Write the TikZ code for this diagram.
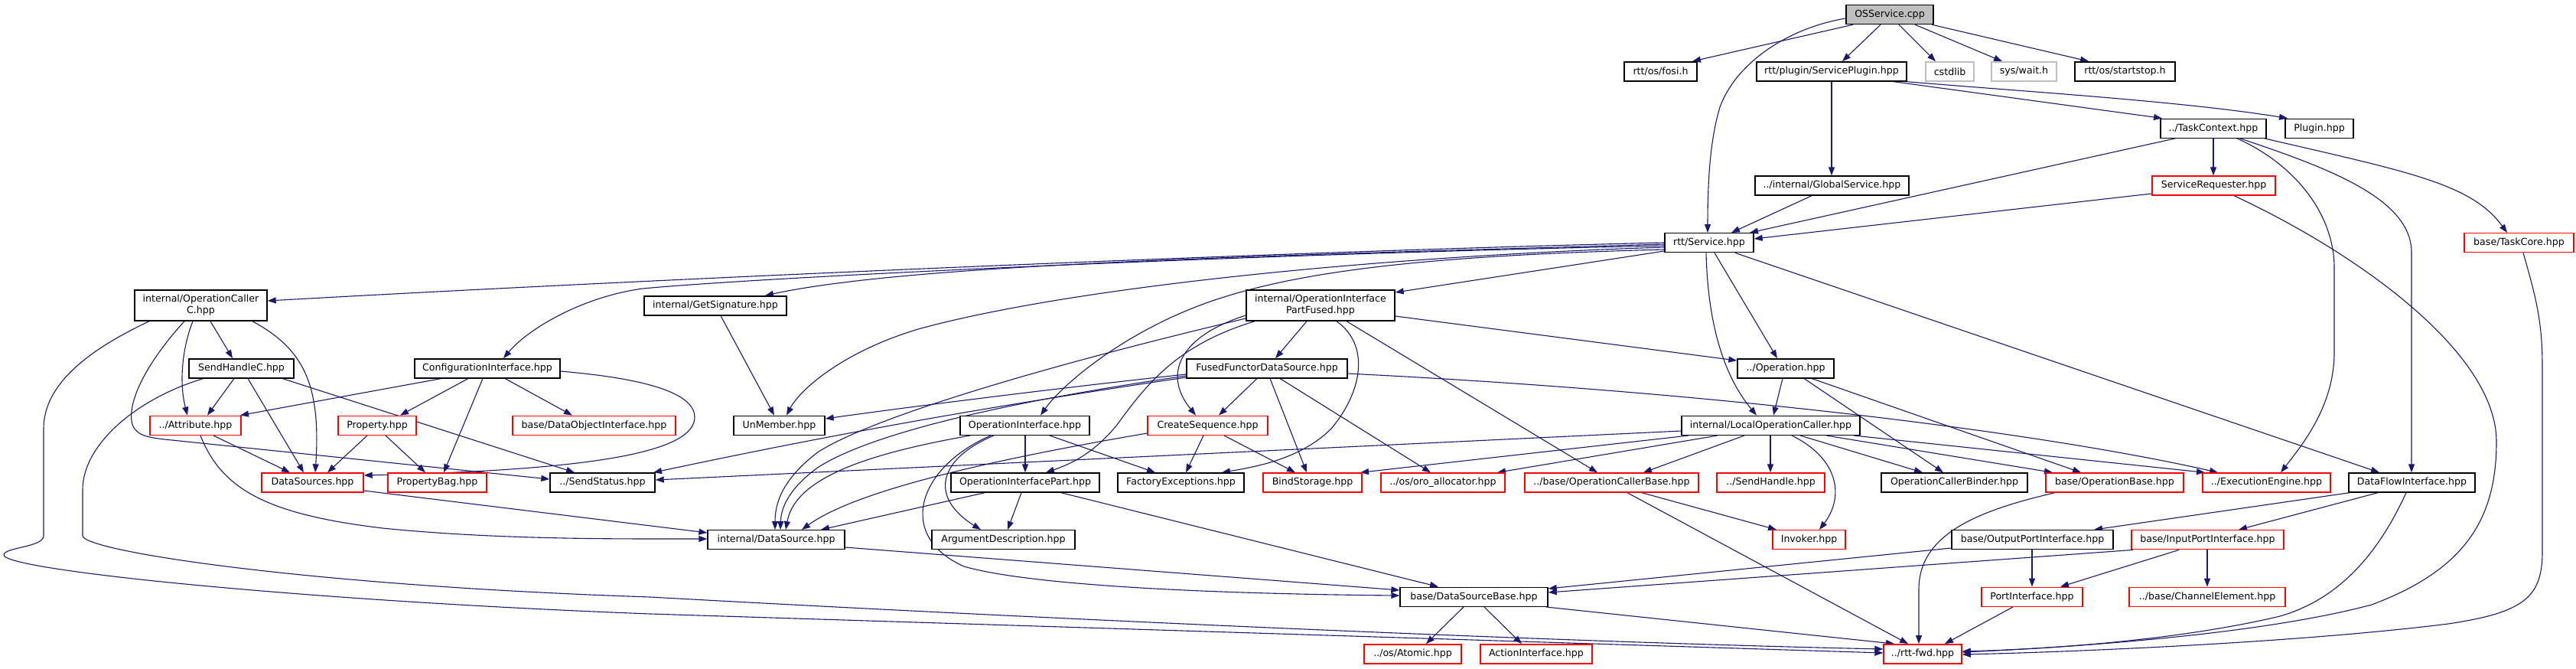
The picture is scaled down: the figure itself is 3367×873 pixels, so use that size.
\documentclass[tikz,border=0pt]{standalone}
\usepackage{fontspec}
\setmainfont{DejaVu Sans}
\usetikzlibrary{arrows.meta}
\pgfdeclarelayer{edges}
\pgfsetlayers{edges,main}
\definecolor{edgeblue}{HTML}{191970}
\definecolor{grayb}{HTML}{BFBFBF}
\newcommand\dxf{\fontsize{6.3pt}{7.5pt}\selectfont}
\tikzset{
  nb/.style={draw=black, line width=0.7pt, fill=white, minimum height=12.5pt, inner sep=0pt, font=\dxf, align=center},
  nr/.style={nb, draw=red},
  ng/.style={nb, draw=grayb},
  two/.style={minimum height=20pt},
  e/.style={draw=edgeblue, line width=0.55pt, -{Triangle[length=5.5pt,width=4pt]}}
}
\begin{document}
\begin{tikzpicture}[x=0.5pt,y=-0.5pt]
\begin{pgfonlayer}{edges}
\fill[white] (0,0) rectangle (3367,873);
\end{pgfonlayer}
\useasboundingbox (0,0) rectangle (3367,873);
% row 0
\node[nb, fill=grayb, minimum width=57pt] (osservice) at (2470,19) {OSService.cpp};
% row 1
\node[nb, minimum width=47.5pt] (fosi) at (2170.5,93.3) {rtt/os/fosi.h};
\node[nb, minimum width=98pt] (splugin) at (2394,93.3) {rtt/plugin/ServicePlugin.hpp};
\node[ng, minimum width=31.5pt] (cstdlib) at (2548.5,93.3) {cstdlib};
\node[ng, minimum width=42.5pt] (syswait) at (2645.5,93.3) {sys/wait.h};
\node[nb, minimum width=65.5pt] (startstop) at (2777.5,93.3) {rtt/os/startstop.h};
% row 2
\node[nb, minimum width=69pt] (taskctx) at (2893,167.7) {../TaskContext.hpp};
\node[nb, minimum width=44.5pt] (plugin) at (3031.5,167.7) {Plugin.hpp};
% row 3
\node[nb, minimum width=100.5pt] (globsvc) at (2394.5,242.5) {../internal/GlobalService.hpp};
\node[nr, minimum width=80.5pt] (svcreq) at (2893.5,242.5) {ServiceRequester.hpp};
% row 4
\node[nb, minimum width=58pt] (service) at (2234,317.2) {rtt/Service.hpp};
\node[nr, minimum width=71.5pt] (taskcore) at (3292.5,317.2) {base/TaskCore.hpp};
% row 5
\node[nb, two, minimum width=86.5pt] (opcallerc) at (262.5,399) {internal/OperationCaller\\C.hpp};
\node[nb, minimum width=93pt] (getsig) at (935,399.3) {internal/GetSignature.hpp};
\node[nb, two, minimum width=97pt] (partfused) at (1726,399) {internal/OperationInterface\\PartFused.hpp};
% row 6
\node[nb, minimum width=68.5pt] (sendhandlec) at (315.5,481.3) {SendHandleC.hpp};
\node[nb, minimum width=95pt] (configif) at (637,481.3) {ConfigurationInterface.hpp};
\node[nb, minimum width=105pt] (fused) at (1656,481.3) {FusedFunctorDataSource.hpp};
\node[nb, minimum width=63pt] (operation) at (2334,481.3) {../Operation.hpp};
% row 7
\node[nr, minimum width=59.5pt] (attribute) at (255.5,555.8) {../Attribute.hpp};
\node[nr, minimum width=51pt] (property) at (493,555.8) {Property.hpp};
\node[nr, minimum width=106.5pt] (dataobj) at (776.5,555.8) {base/DataObjectInterface.hpp};
\node[nb, minimum width=59.5pt] (unmember) at (1018.5,555.8) {UnMember.hpp};
\node[nb, minimum width=84.5pt] (opif) at (1339.5,555.8) {OperationInterface.hpp};
\node[nr, minimum width=78.5pt] (createseq) at (1578.5,555.8) {CreateSequence.hpp};
\node[nb, minimum width=116.5pt] (localop) at (2314.5,555.8) {internal/LocalOperationCaller.hpp};
% row 8
\node[nr, minimum width=66.5pt] (datasources) at (408.5,630.5) {DataSources.hpp};
\node[nr, minimum width=64.5pt] (propbag) at (571.5,630.5) {PropertyBag.hpp};
\node[nb, minimum width=68.5pt] (sendstatus) at (787.5,630.5) {../SendStatus.hpp};
\node[nb, minimum width=97pt] (opifpart) at (1340,630.5) {OperationInterfacePart.hpp};
\node[nb, minimum width=82.5pt] (factoryexc) at (1543.5,630.5) {FactoryExceptions.hpp};
\node[nr, minimum width=64.5pt] (bindstorage) at (1715.5,630.5) {BindStorage.hpp};
\node[nr, minimum width=81pt] (oroalloc) at (1886,630.5) {../os/oro\_allocator.hpp};
\node[nr, minimum width=113.5pt] (opcallerbase) at (2106.5,630.5) {../base/OperationCallerBase.hpp};
\node[nr, minimum width=70.5pt] (sendhandle) at (2314.5,630.5) {../SendHandle.hpp};
\node[nb, minimum width=95.5pt] (opcallerbinder) at (2554.5,630.5) {OperationCallerBinder.hpp};
\node[nr, minimum width=90pt] (opbase) at (2764,630.5) {base/OperationBase.hpp};
\node[nr, minimum width=83.5pt] (execengine) at (2962.5,630.5) {../ExecutionEngine.hpp};
\node[nb, minimum width=82.5pt] (dataflow) at (3152.5,630.5) {DataFlowInterface.hpp};
% row 9
\node[nb, minimum width=89.5pt] (datasource) at (1014.5,705.2) {internal/DataSource.hpp};
\node[nb, minimum width=93.5pt] (argdesc) at (1311.5,705.2) {ArgumentDescription.hpp};
\node[nr, minimum width=47.5pt] (invoker) at (2364.5,705.2) {Invoker.hpp};
\node[nb, minimum width=105.5pt] (outport) at (2656.5,705.2) {base/OutputPortInterface.hpp};
\node[nr, minimum width=99.5pt] (inport) at (2885.5,705.2) {base/InputPortInterface.hpp};
% row 10
\node[nb, minimum width=96.5pt] (dsbase) at (1926.5,779.8) {base/DataSourceBase.hpp};
\node[nr, minimum width=66pt] (portif) at (2656,779.8) {PortInterface.hpp};
\node[nr, minimum width=102pt] (chanelem) at (2885,779.8) {../base/ChannelElement.hpp};
% row 11
\node[nr, minimum width=63.5pt] (atomic) at (1846.5,854.3) {../os/Atomic.hpp};
\node[nr, minimum width=73pt] (actionif) at (2008,854.3) {ActionInterface.hpp};
\node[nr, minimum width=51pt] (rttfwd) at (2513,854.3) {../rtt-fwd.hpp};

\begin{pgfonlayer}{edges}
% OSService
\draw[e] (2422,0 |- osservice.south) -- (2212,0 |- fosi.north);
\draw[e] (2458,0 |- osservice.south) -- (2408,0 |- splugin.north);
\draw[e] (2482,0 |- osservice.south) -- (2530,0 |- cstdlib.north);
\draw[e] (2503,0 |- osservice.south) -- (2617,0 |- syswait.north);
\draw[e] (2525,0 |- osservice.south) -- (2730,0 |- startstop.north);
\draw[e] (osservice.west |- 0,24) .. controls (2340,36) and (2270,80) .. (2248,140) .. controls (2236,180) and (2232,230) .. (2232,0 |- service.north);
% ServicePlugin
\draw[e] (2394,0 |- splugin.south) -- (2394,0 |- globsvc.north);
\draw[e] (2474,0 |- splugin.south) -- (2826,0 |- taskctx.north);
\draw[e] (2490,0 |- splugin.south) .. controls (2650,120) and (2850,132) .. (2990,0 |- plugin.north);
% GlobalService
\draw[e] (2368,0 |- globsvc.south) -- (2263,0 |- service.north);
% TaskContext
\draw[e] (2843,0 |- taskctx.south) -- (2287,0 |- service.north);
\draw[e] (2893,0 |- taskctx.south) -- (2893,0 |- svcreq.north);
\draw[e] (2924,0 |- taskctx.south) .. controls (3000,215) and (3051,280) .. (3051,350) -- (3051,460) .. controls (3051,530) and (3010,580) .. (2981,0 |- execengine.north);
\draw[e] (2928,0 |- taskctx.south) .. controls (3045,220) and (3152,260) .. (3152,330) -- (3152,0 |- dataflow.north);
\draw[e] (2960,0 |- taskctx.south) .. controls (3150,225) and (3230,240) .. (3277,0 |- taskcore.north);
% ServiceRequester
\draw[e] (svcreq.west |- 0,253) -- (service.east |- 0,312);
\draw[e] (2920,0 |- svcreq.south) .. controls (3080,330) and (3263,460) .. (3263,577) .. controls (3263,680) and (3220,745) .. (3100,790) .. controls (2950,830) and (2700,846) .. (rttfwd.east |- 0,852);
% TaskCore
\draw[e] (3298,0 |- taskcore.south) .. controls (3315,390) and (3323,420) .. (3323,480) -- (3323,720) .. controls (3323,780) and (3300,800) .. (3200,815) .. controls (3000,840) and (2700,852) .. (rttfwd.east |- 0,855);
% DataFlowInterface
\draw[e] (3145,0 |- dataflow.south) .. controls (3110,720) and (3060,782) .. (2980,805) .. controls (2850,836) and (2680,848) .. (rttfwd.east |- 0,851);
\draw[e] (3071,0 |- dataflow.south) -- (2737,0 |- outport.north);
\draw[e] (3108,0 |- dataflow.south) -- (2926,0 |- inport.north);
% Service
\draw[e] (service.west |- 0,317) .. controls (1700,328) and (900,362) .. (opcallerc.east |- 0,393);
\draw[e] (service.west |- 0,319) .. controls (1700,333) and (1200,343) .. (1000,0 |- getsig.north);
\draw[e] (service.west |- 0,321) .. controls (1600,333) and (1000,362) .. (840,377) .. controls (760,388) and (690,430) .. (658,0 |- configif.north);
\draw[e] (service.west |- 0,323) .. controls (1800,335) and (1400,375) .. (1200,430) .. controls (1100,460) and (1045,510) .. (1028,0 |- unmember.north);
\draw[e] (service.west |- 0,326) .. controls (1900,333) and (1720,350) .. (1600,388) .. controls (1480,425) and (1390,500) .. (1360,0 |- opif.north);
\draw[e] (service.west |- 0,328) -- (partfused.east |- 0,382);
\draw[e] (2230,0 |- service.south) .. controls (2232,420) and (2252,490) .. (2296,0 |- localop.north);
\draw[e] (2241,0 |- service.south) -- (2323,0 |- operation.north);
\draw[e] (2268,0 |- service.south) -- (3110,0 |- dataflow.north);
% OperationCallerC
\draw[e] (275,0 |- opcallerc.south) -- (304,0 |- sendhandlec.north);
\draw[e] (252,0 |- opcallerc.south) .. controls (238,455) and (234,500) .. (245,0 |- attribute.north);
\draw[e] (330,0 |- opcallerc.south) .. controls (395,455) and (420,500) .. (412,0 |- datasources.north);
\draw[e] (241,0 |- opcallerc.south) .. controls (195,470) and (168,520) .. (172,550) .. controls (175,568) and (190,571) .. (215,574) -- (sendstatus.west |- 0,626);
\draw[e] (195,0 |- opcallerc.south) .. controls (120,455) and (57,500) .. (57,560) -- (57,700) .. controls (57,715) and (5,715) .. (5,725) .. controls (5,745) and (400,785) .. (850,802) -- (rttfwd.west |- 0,853);
% SendHandleC
\draw[e] (306,0 |- sendhandlec.south) -- (271,0 |- attribute.north);
\draw[e] (324,0 |- sendhandlec.south) -- (397,0 |- datasources.north);
\draw[e] (369,0 |- sendhandlec.south) -- (751,0 |- sendstatus.north);
\draw[e] (266,0 |- sendhandlec.south) .. controls (180,520) and (108,580) .. (108,640) -- (108,700) .. controls (110,720) and (400,765) .. (850,780) .. controls (1300,805) and (2000,838) .. (rttfwd.west |- 0,848);
% ConfigurationInterface
\draw[e] (577,0 |- configif.south) -- (314,0 |- attribute.north);
\draw[e] (612,0 |- configif.south) -- (523,0 |- property.north);
\draw[e] (631,0 |- configif.south) -- (580,0 |- propbag.north);
\draw[e] (660,0 |- configif.south) -- (748,0 |- dataobj.north);
\draw[e] (configif.east |- 0,485) .. controls (850,495) and (908,515) .. (908,545) .. controls (908,590) and (780,614) .. (datasources.east |- 0,621);
% Attribute, Property, DataSources
\draw[e] (279,0 |- attribute.south) -- (379,0 |- datasources.north);
\draw[e] (262,0 |- attribute.south) .. controls (290,640) and (350,672) .. (500,690) .. controls (650,705) and (800,704) .. (datasource.west |- 0,704);
\draw[e] (480,0 |- property.south) -- (428,0 |- datasources.north);
\draw[e] (504,0 |- property.south) -- (556,0 |- propbag.north);
\draw[e] (datasources.east |- 0,641) -- (datasource.west |- 0,696);
% GetSignature
\draw[e] (942,0 |- getsig.south) -- (1012,0 |- unmember.north);
% PartFused
\draw[e] (1708,0 |- partfused.south) -- (1667,0 |- fused.north);
\draw[e] (partfused.east |- 0,413) -- (operation.west |- 0,471);
\draw[e] (partfused.west |- 0,412) .. controls (1540,440) and (1520,490) .. (1563,0 |- createseq.north);
\draw[e] (1640,0 |- partfused.south) .. controls (1540,450) and (1500,500) .. (1460,555) .. controls (1430,592) and (1400,606) .. (1367,0 |- opifpart.north);
\draw[e] (partfused.west |- 0,416) .. controls (1400,470) and (1150,540) .. (1070,590) .. controls (1030,620) and (1013,650) .. (1013,0 |- datasource.north);
\draw[e] (1747,0 |- partfused.south) .. controls (1790,450) and (1782,510) .. (1740,560) .. controls (1700,600) and (1640,610) .. (1597,0 |- factoryexc.north);
\draw[e] (1760,0 |- partfused.south) -- (2088,0 |- opcallerbase.north);
% FusedFunctorDataSource
\draw[e] (1643,0 |- fused.south) -- (1593,0 |- createseq.north);
\draw[e] (1660,0 |- fused.south) -- (1708,0 |- bindstorage.north);
\draw[e] (1673,0 |- fused.south) -- (1870,0 |- oroalloc.north);
\draw[e] (fused.east |- 0,488) .. controls (2300,515) and (2700,572) .. (2899,0 |- execengine.north);
\draw[e] (fused.west |- 0,489) .. controls (1400,505) and (1200,530) .. (unmember.east |- 0,547);
\draw[e] (fused.west |- 0,491) .. controls (1350,520) and (1150,560) .. (1070,610) .. controls (1035,635) and (1021,660) .. (1020,0 |- datasource.north);
\draw[e] (fused.west |- 0,493) .. controls (1300,530) and (1100,565) .. (854,0 |- sendstatus.north);
% OperationInterface
\draw[e] (1340,0 |- opif.south) -- (1340,0 |- opifpart.north);
\draw[e] (1372,0 |- opif.south) -- (1510,0 |- factoryexc.north);
\draw[e] (1299,0 |- opif.south) .. controls (1225,600) and (1215,650) .. (1282,0 |- argdesc.north);
\draw[e] (1295,0 |- opif.south) .. controls (1200,610) and (1170,700) .. (1260,740) .. controls (1350,766) and (1600,776) .. (dsbase.west |- 0,778);
\draw[e] (1268,0 |- opif.south) .. controls (1150,590) and (1040,620) .. (1027,0 |- datasource.north);
% CreateSequence
\draw[e] (1573,0 |- createseq.south) -- (1550,0 |- factoryexc.north);
\draw[e] (1600,0 |- createseq.south) -- (1693,0 |- bindstorage.north);
\draw[e] (createseq.west |- 0,566) .. controls (1300,600) and (1120,640) .. (1048,0 |- datasource.north);
% OperationInterfacePart
\draw[e] (1335,0 |- opifpart.south) -- (1317,0 |- argdesc.north);
\draw[e] (1287,0 |- opifpart.south) -- (1073,0 |- datasource.north);
\draw[e] (1387,0 |- opifpart.south) -- (1880,0 |- dsbase.north);
% DataSource
\draw[e] (datasource.east |- 0,715) -- (dsbase.west |- 0,771);
% DataSourceBase
\draw[e] (1913,0 |- dsbase.south) -- (1864,0 |- atomic.north);
\draw[e] (1940,0 |- dsbase.south) -- (1989,0 |- actionif.north);
\draw[e] (2021,0 |- dsbase.south) -- (2476,0 |- rttfwd.north);
% OperationCallerBase
\draw[e] (2146,0 |- opcallerbase.south) -- (2322,0 |- invoker.north);
\draw[e] (2127,0 |- opcallerbase.south) -- (2494,0 |- rttfwd.north);
% LocalOperationCaller
\draw[e] (localop.west |- 0,563) -- (sendstatus.east |- 0,627);
\draw[e] (2207,0 |- localop.south) -- (1778,0 |- bindstorage.north);
\draw[e] (2245,0 |- localop.south) -- (1957,0 |- oroalloc.north);
\draw[e] (2280,0 |- localop.south) -- (2148,0 |- opcallerbase.north);
\draw[e] (2314,0 |- localop.south) -- (2314,0 |- sendhandle.north);
\draw[e] (2342,0 |- localop.south) .. controls (2405,600) and (2410,650) .. (2378,0 |- invoker.north);
\draw[e] (2353,0 |- localop.south) -- (2513,0 |- opcallerbinder.north);
\draw[e] (2387,0 |- localop.south) -- (2683,0 |- opbase.north);
\draw[e] (2423,0 |- localop.south) -- (2882,0 |- execengine.north);
% Operation
\draw[e] (2330,0 |- operation.south) -- (2318,0 |- localop.north);
\draw[e] (2358,0 |- operation.south) -- (2540,0 |- opcallerbinder.north);
\draw[e] (2368,0 |- operation.south) -- (2720,0 |- opbase.north);
% Ports
\draw[e] (2656,0 |- outport.south) -- (2656,0 |- portif.north);
\draw[e] (outport.west |- 0,716) -- (dsbase.east |- 0,769);
\draw[e] (2788,0 |- inport.south) -- (dsbase.east |- 0,774);
\draw[e] (2848,0 |- inport.south) -- (2693,0 |- portif.north);
\draw[e] (2885,0 |- inport.south) -- (2885,0 |- chanelem.north);
\draw[e] (2631,0 |- portif.south) -- (2542,0 |- rttfwd.north);
\draw[e] (2686,0 |- opbase.south) .. controls (2580,668) and (2508,700) .. (2508,770) -- (2508,0 |- rttfwd.north);
\end{pgfonlayer}
\end{tikzpicture}
\end{document}
